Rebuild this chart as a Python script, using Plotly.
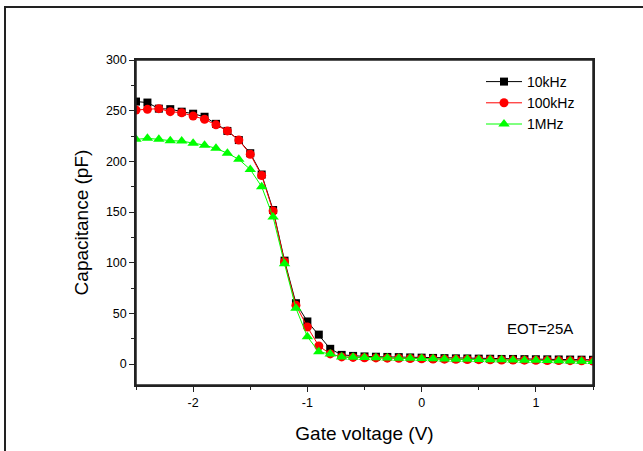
import plotly.graph_objects as go

voltage = [round(-2.5 + 0.1 * i, 1) for i in range(41)]

c_10khz = [259, 258, 252, 251.5, 249, 247, 244, 237, 230, 221, 208, 187, 152, 102, 60, 42, 29, 15, 9,
           8, 7.5, 7.2, 7, 6.8, 6.5, 6.3, 6, 5.8, 5.6, 5.5, 5.3, 5.2, 5, 5, 4.8, 4.7, 4.6, 4.5, 4.4, 4.3, 4.2]
c_100khz = [250.7, 251.3, 252, 249, 248, 244.7, 241.5, 236, 230, 221, 207, 186, 151, 101, 58, 36.5, 17.8, 10, 7,
            6.5, 6.2, 6, 5.8, 5.6, 5.4, 5.2, 5, 4.8, 4.6, 4.5, 4.3, 4.2, 4, 3.9, 3.8, 3.6, 3.5, 3.4, 3.3, 3.2, 3]
c_1mhz = [221.7, 222.7, 221.7, 220.4, 220, 217.8, 216, 212.8, 208, 202, 192, 175, 145, 99, 55, 27, 12, 10, 7,
          6.8, 6.5, 6.3, 6, 5.8, 5.6, 5.4, 5.2, 5, 4.8, 4.6, 4.5, 4.3, 4.1, 4, 3.8, 3.6, 3.4, 3.2, 3, 2.8, 2.5]

series = [
    ("10kHz", c_10khz, "#000000", "square", 8),
    ("100kHz", c_100khz, "#FF0000", "circle", 9),
    ("1MHz", c_1mhz, "#00FF00", "triangle-up", 10),
]

fig = go.Figure()
for name, vals, color, sym, size in series:
    fig.add_trace(go.Scatter(
        x=voltage, y=vals, name=name, mode="lines+markers",
        line=dict(color=color, width=1),
        marker=dict(symbol=sym, size=size, color=color, line=dict(width=0)),
    ))

W, H = 643, 451
L, T = 136, 60
pw, ph = 457, 325
R, B = W - L - pw, H - T - ph

def px_x(p):
    return (p - L) / pw

def px_y(p):
    return (T + ph - p) / ph

fig.update_layout(
    width=W, height=H,
    margin=dict(l=L, r=R, t=T, b=B, autoexpand=False),
    paper_bgcolor="white", plot_bgcolor="white",
    font=dict(family="Liberation Sans, Arial, sans-serif", color="#000000"),
    showlegend=True,
    legend=dict(x=px_x(481), y=px_y(66), xanchor="left", yanchor="top",
                bgcolor="rgba(0,0,0,0)", font=dict(size=14), tracegroupgap=0,
                itemwidth=36),
    annotations=[dict(text="EOT=25A", x=1.04, y=35, xref="x", yref="y",
                      showarrow=False, font=dict(size=15, color="#000000"))],
    shapes=[
        dict(type="rect", xref="paper", yref="paper",
             x0=px_x(5), x1=px_x(660), y0=px_y(470), y1=px_y(7),
             line=dict(color="#222222", width=2), layer="below"),
        dict(type="rect", xref="paper", yref="paper",
             x0=0, x1=1, y0=0, y1=1,
             line=dict(color="#222222", width=1.5), layer="above"),
    ],
)

fig.update_xaxes(
    automargin=False,
    range=[-2.5, 1.5], tickvals=[-2, -1, 0, 1], ticktext=["-2", "-1", "0", "1"],
    ticks="outside", ticklen=5, tickwidth=1, tickcolor="#222222",
    minor=dict(dtick=0.5, tick0=0, ticks="outside", ticklen=3, tickcolor="#222222"),
    showline=True, linecolor="#222222", linewidth=1.5, mirror=True,
    showgrid=False, zeroline=False,
    tickfont=dict(size=12.5),
    title=dict(text="Gate voltage (V)", font=dict(size=19), standoff=18),
)
fig.update_yaxes(
    automargin=False,
    range=[-20.7, 300], tickvals=[0, 50, 100, 150, 200, 250, 300],
    ticks="outside", ticklen=5, tickwidth=1, tickcolor="#222222",
    minor=dict(dtick=25, tick0=0, ticks="outside", ticklen=3, tickcolor="#222222"),
    showline=True, linecolor="#222222", linewidth=1.5, mirror=True,
    showgrid=False, zeroline=False,
    tickfont=dict(size=12.5),
    title=dict(text="Capacitance (pF)", font=dict(size=19), standoff=12),
)

fig.write_html("out.html", config={"displayModeBar": False},
               post_script="document.body.style.margin='0';document.body.style.padding='0';")
